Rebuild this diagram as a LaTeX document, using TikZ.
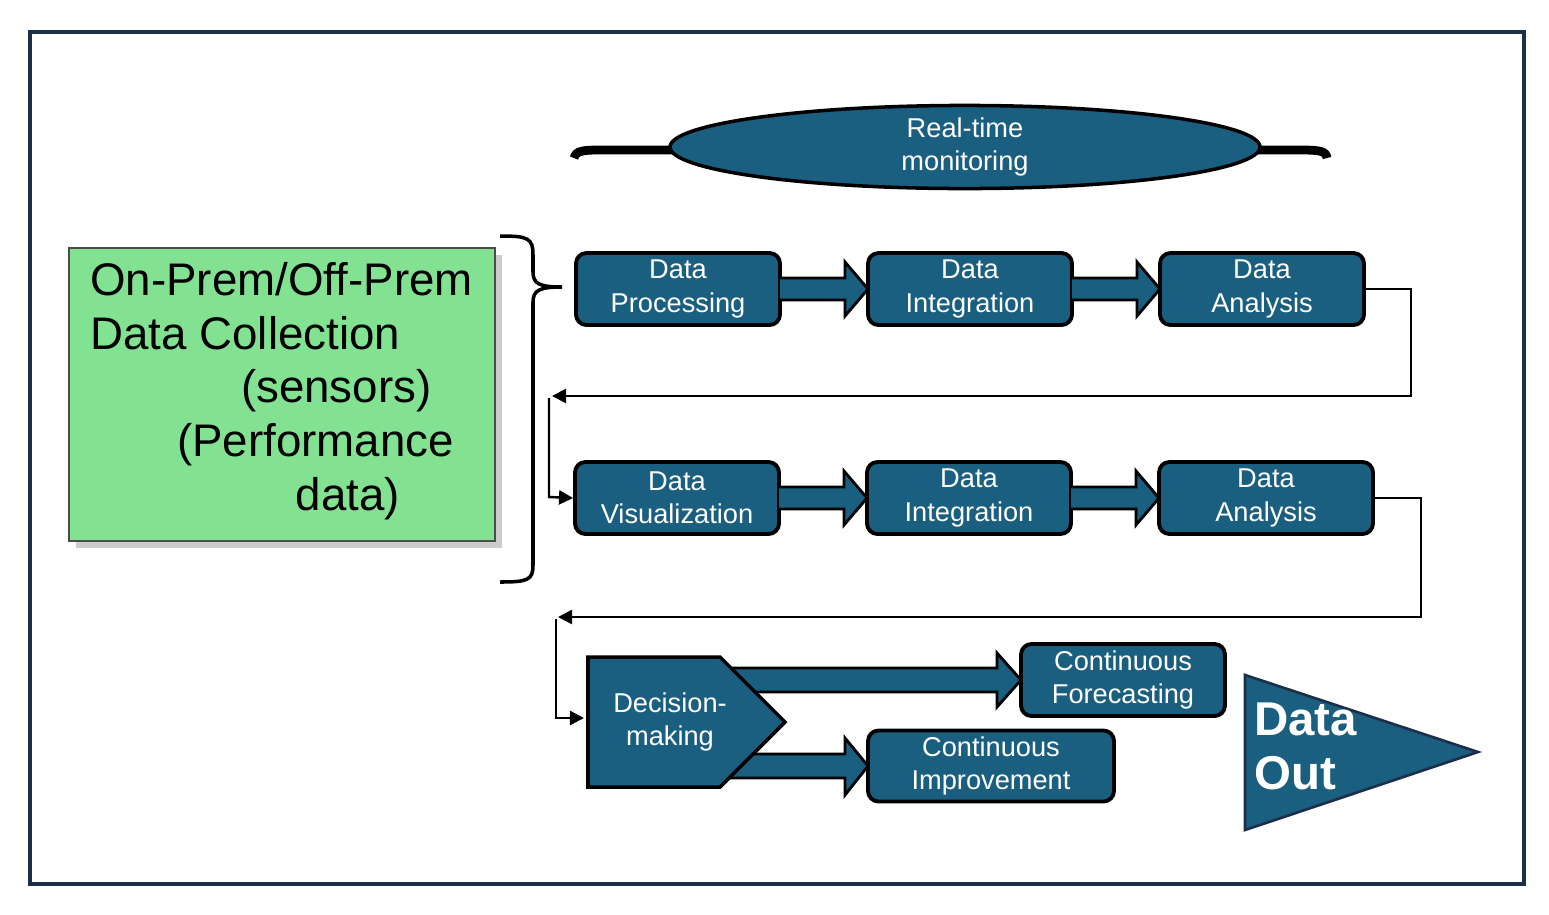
\documentclass[tikz,border=0pt]{standalone}
\usepackage{fontspec}
\setmainfont{Liberation Sans}
\usetikzlibrary{arrows.meta,shadows,shapes.geometric}
\definecolor{tb}{HTML}{1A5F80}
\definecolor{gr}{HTML}{82E291}
\definecolor{nav}{HTML}{1B2F4A}
\begin{document}
\begin{tikzpicture}[x=0.02cm,y=-0.02cm,
 box/.style={draw=black,line width=2.2pt,fill=tb,rounded corners=6pt,text=white,align=center,font=\fontsize{15.5}{19}\selectfont,inner sep=0pt},
 blk/.style={draw=black,line width=1.6pt,fill=tb},
 con/.style={line width=1.4pt,-{Triangle[length=8pt,width=8pt]}}]
\useasboundingbox (0,0) rectangle (1549,914);
\draw[nav,line width=1.8pt] (30,32) rectangle (1524,884);
% green box
\node[draw=black!70,line width=1pt,fill=gr,drop shadow={opacity=0.4,shadow xshift=4pt,shadow yshift=-4pt},minimum width=426*0.02cm,minimum height=293*0.02cm,inner sep=0pt] (g) at (282,394.5) {};
\node[anchor=north west,align=left,font=\fontsize{26}{30.6}\selectfont,inner sep=0pt] (gt) at (90,262) {On-Prem/Off-Prem\\Data Collection\\\hspace*{3.3em}(sensors)\\\hspace*{1.9em}(Performance\\\hspace*{4.5em}data)};
% brace
\draw[line width=2pt] (500,236) .. controls (528,236) and (533,238) .. (533,255) -- (533,272) .. controls (533,284) and (540,287) .. (562,287) .. controls (540,287) and (533,290) .. (533,302) -- (533,565) .. controls (533,580) and (528,582) .. (500,582);
% top brace
\draw[line width=5pt] (574,158) .. controls (576,151) and (582,150) .. (600,150) -- (700,150);
\draw[line width=5pt] (1230,150) -- (1300,150) .. controls (1320,150) and (1326,151) .. (1327,158);
\node[draw=black,line width=2pt,fill=tb,ellipse,minimum width=590*0.02cm,minimum height=78*0.02cm,inner sep=0pt,text=white,align=center,font=\fontsize{15.5}{19}\selectfont] (rt) at (965,147) {Real-time\\monitoring};
% row 1
\node[box,minimum width=204*0.02cm,minimum height=72*0.02cm] (p1) at (678,289) {Data\\Processing};
\node[box,minimum width=204*0.02cm,minimum height=72*0.02cm] (i1) at (970,289) {Data\\Integration};
\node[box,minimum width=204*0.02cm,minimum height=72*0.02cm] (a1) at (1262,289) {Data\\Analysis};
% row 2
\node[box,minimum width=204*0.02cm,minimum height=72*0.02cm] (v2) at (677,498) {Data\\Visualization};
\node[box,minimum width=204*0.02cm,minimum height=72*0.02cm] (i2) at (969,498) {Data\\Integration};
\node[box,minimum width=214*0.02cm,minimum height=72*0.02cm] (a2) at (1266,498) {Data\\Analysis};
% row 3
\node[box,minimum width=204*0.02cm,minimum height=72*0.02cm] (cf) at (1123,680) {Continuous\\Forecasting};
\node[box,minimum width=246*0.02cm,minimum height=71*0.02cm] (ci) at (991,766) {Continuous\\Improvement};
% block arrows
\foreach \xa/\xb/\y in {780/868/289, 1072/1160/289, 779/867/498, 1071/1159/498}{
 \draw[blk] (\xa,\y-11) -- (\xb-23,\y-11) -- (\xb-23,\y-27) -- (\xb,\y) -- (\xb-23,\y+27) -- (\xb-23,\y+11) -- (\xa,\y+11);
}
\draw[blk] (700,668) -- (997,668) -- (997,653) -- (1021,680) -- (997,707) -- (997,692) -- (700,692) -- cycle;
\draw[blk] (700,754) -- (845,754) -- (845,738) -- (868,766) -- (845,795) -- (845,778) -- (700,778) -- cycle;
% decision
\draw[line width=2pt,fill=tb] (588,657) -- (720,657) -- (785,722) -- (720,787) -- (588,787) -- cycle;
\node[text=white,align=center,font=\fontsize{15.5}{19}\selectfont] (dm) at (670,722) {Decision-\\making};
% data out
\draw[nav,line width=1.5pt,fill=tb] (1245,675) -- (1478,752) -- (1245,830) -- cycle;
\node[anchor=north west,text=white,align=left,font=\fontsize{27}{31}\selectfont\bfseries,inner sep=0pt] (do) at (1254,702) {Data\\Out};
% connectors
\coordinate (c1) at (552,396);
\coordinate (c2) at (558,617);
\draw[con] (a1.east) -- (1411,289) -- (1411,396) -- (c1);
\draw[con] (549,398) -- (549,497) -- (v2.west);
\draw[con] (a2.east) -- (1421,498) -- (1421,617) -- (c2);
\draw[con] (556,619) -- (556,718) -- (584,718);
\end{tikzpicture}
\end{document}
